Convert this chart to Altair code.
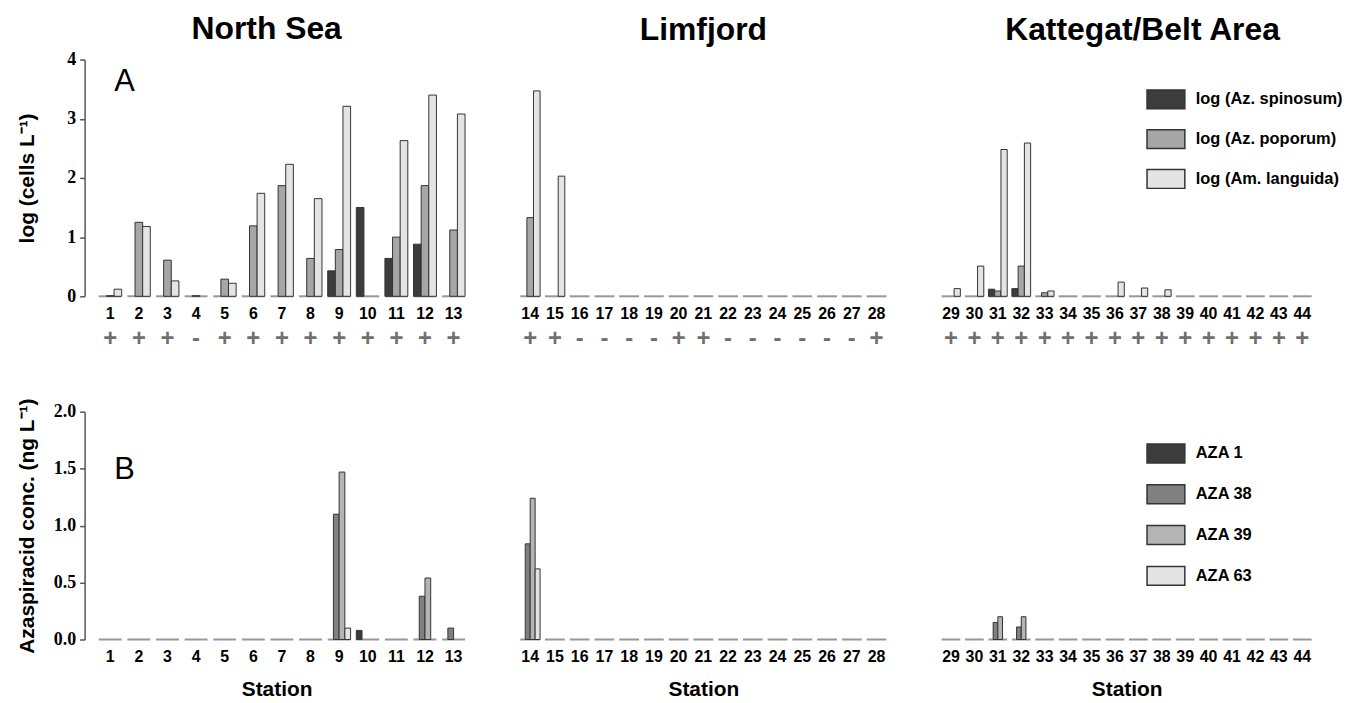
import altair as alt
import pandas as pd

# ---------------- data ----------------
stations_ns = [str(i) for i in range(1, 14)]
stations_lf = [str(i) for i in range(14, 29)]
stations_kb = [str(i) for i in range(29, 45)]

species = ["log (Az. spinosum)", "log (Az. poporum)", "log (Am. languida)"]
species_colors = ["#3c3c3c", "#a6a6a6", "#e4e4e4"]

spin_ns = [0, 0, 0, 0, 0, 0, 0, 0, 0.43, 1.50, 0.64, 0.88, 0]
pop_ns = [0.01, 1.25, 0.61, 0.01, 0.29, 1.19, 1.87, 0.64, 0.79, 0, 1.00, 1.87, 1.12]
lang_ns = [0.12, 1.18, 0.26, 0, 0.22, 1.74, 2.23, 1.65, 3.21, 0, 2.63, 3.40, 3.08]

spin_lf = [0] * 15
pop_lf = [1.33, 0, 0, 0, 0, 0, 0, 0, 0, 0, 0, 0, 0, 0, 0]
lang_lf = [3.47, 2.03, 0, 0, 0, 0, 0, 0, 0, 0, 0, 0, 0, 0, 0]

spin_kb = [0, 0, 0.12, 0.13, 0, 0, 0, 0, 0, 0, 0, 0, 0, 0, 0, 0]
pop_kb = [0, 0, 0.09, 0.51, 0.06, 0, 0, 0, 0, 0, 0, 0, 0, 0, 0, 0]
lang_kb = [0.13, 0.51, 2.48, 2.59, 0.09, 0, 0, 0.24, 0.14, 0.11, 0, 0, 0, 0, 0, 0]

signs_ns = ["+", "+", "+", "-", "+", "+", "+", "+", "+", "+", "+", "+", "+"]
signs_lf = ["+", "+", "-", "-", "-", "-", "+", "+", "-", "-", "-", "-", "-", "-", "+"]
signs_kb = ["+"] * 16

toxins = ["AZA 1", "AZA 38", "AZA 39", "AZA 63"]
toxin_colors = ["#3c3c3c", "#808080", "#b4b4b4", "#e4e4e4"]

aza1_ns = [0, 0, 0, 0, 0, 0, 0, 0, 0, 0.08, 0, 0, 0]
aza38_ns = [0, 0, 0, 0, 0, 0, 0, 0, 1.10, 0, 0, 0.38, 0.10]
aza39_ns = [0, 0, 0, 0, 0, 0, 0, 0, 1.47, 0, 0, 0.54, 0]
aza63_ns = [0, 0, 0, 0, 0, 0, 0, 0, 0.10, 0, 0, 0, 0]

aza1_lf = [0] * 15
aza38_lf = [0.84] + [0] * 14
aza39_lf = [1.24] + [0] * 14
aza63_lf = [0.62] + [0] * 14

aza1_kb = [0] * 16
aza38_kb = [0, 0, 0.15, 0.11] + [0] * 12
aza39_kb = [0, 0, 0.20, 0.20] + [0] * 12
aza63_kb = [0] * 16

regions = ["North Sea", "Limfjord", "Kattegat/Belt Area"]


SANS = "Liberation Sans"
SERIF = "Liberation Serif"


def y_axis(title, values, fmt):
    return alt.Axis(
        title=title, values=values, format=fmt, grid=False,
        titleFont=SANS, titleFontSize=21, titleFontWeight="bold", titleColor="black",
        titlePadding=6,
        labelFont=SERIF, labelFontSize=18, labelFontWeight="bold", labelColor="black",
        labelPadding=4, tickSize=5, tickColor="#555", tickWidth=1.5,
        domainColor="#555", domainWidth=1.5, minExtent=41, maxExtent=41,
    )


def x_axis(title):
    kw = dict(
        labelAngle=0, domain=False, ticks=False, labelOverlap=False,
        labelFont=SANS, labelFontSize=16, labelFontWeight="bold", labelColor="black",
        labelPadding=9,
    )
    if title:
        kw.update(title=title, titleFont=SANS, titleFontSize=21, titleFontWeight="bold",
                  titleColor="black", titlePadding=14)
    else:
        kw.update(title=None)
    return alt.Axis(**kw)


def panel(stations, names, colors, series_lists, signs, ymax, height, width,
          pad_outer, align, show_y, ytitle, yvalues, yfmt, xtitle, legend, letter,
          letter_y, title=None, title_offset=10, title_dx=0):
    xscale = alt.Scale(type="band", domain=stations, paddingInner=0.2,
                       paddingOuter=pad_outer, align=align)
    yscale = alt.Scale(domain=[0, ymax], nice=False, zero=True)
    cscale = alt.Scale(domain=names, range=colors)
    yax = y_axis(ytitle, yvalues, yfmt) if show_y else None
    xax = x_axis(xtitle)
    n = len(stations)
    m = len(names)
    step = width / (n - 0.2 + 2 * pad_outer)
    band = 0.8 * step
    bar_w = band / m

    base_df = pd.DataFrame({"station": stations})
    if signs is not None:
        base_df["sign"] = signs

    X = alt.X("station:N", scale=xscale, axis=xax, sort=stations)
    Y0 = alt.Y("zero:Q", scale=yscale, axis=yax)

    layers = [
        alt.Chart(base_df).transform_calculate(zero="0").mark_tick(
            orient="horizontal", size=band, thickness=2, color="#6b6b6b"
        ).encode(x=X, y=Y0)
    ]

    for k, (name, vals) in enumerate(zip(names, series_lists)):
        sdf = pd.DataFrame({"station": stations, "series": name, "value": vals})
        layers.append(
            alt.Chart(sdf).transform_filter("datum.value > 0").mark_bar(
                stroke="#333333", strokeWidth=1, width=bar_w,
                xOffset=(k - (m - 1) / 2) * bar_w,
            ).encode(
                x=X,
                y=alt.Y("value:Q", scale=yscale, axis=yax),
                color=alt.Color("series:N", scale=cscale, legend=legend),
            )
        )

    if signs is not None:
        layers.append(
            alt.Chart(base_df).transform_calculate(zero="0").mark_text(
                dy=43, fontSize=24, fontWeight="bold", color="#707070", font=SANS
            ).encode(x=X, y=Y0, text="sign:N")
        )
    if letter is not None:
        ldf = pd.DataFrame({"station": [stations[0]], "ypos": [letter_y], "letter": [letter]})
        layers.append(
            alt.Chart(ldf).mark_text(
                align="left", dx=4, fontSize=31, font=SANS, color="black"
            ).encode(x=X, y=alt.Y("ypos:Q", scale=yscale, axis=yax), text="letter:N")
        )

    props = dict(width=width, height=height)
    if title is not None:
        props["title"] = alt.TitleParams(
            title, font=SANS, fontSize=32, fontWeight="bold", color="black",
            anchor="middle", offset=title_offset, dx=title_dx,
        )
    return alt.layer(*layers).properties(**props)


def legend_for(legend_y, row_pad):
    return alt.Legend(
        title=None, orient="none", legendX=209, legendY=legend_y,
        symbolType="M-1,-0.5H1V0.5H-1Z", symbolSize=1444,
        symbolStrokeColor="#333333", symbolStrokeWidth=1.5, symbolOpacity=1,
        labelFont=SANS, labelFontSize=16.5, labelFontWeight="bold", labelColor="black",
        labelOffset=10, rowPadding=row_pad, labelLimit=300,
    )


W_NS, W_LF, W_KB = 386, 378, 379
H_A, H_B = 238, 229

cfgA = dict(names=species, colors=species_colors, ymax=4, height=H_A,
            ytitle="log (cells L\u207b\u00b9)", yvalues=[0, 1, 2, 3, 4], yfmt="d", xtitle=None)
cfgB = dict(names=toxins, colors=toxin_colors, ymax=2, height=H_B,
            ytitle="Azaspiracid conc. (ng L\u207b\u00b9)", yvalues=[0, 0.5, 1, 1.5, 2], yfmt=".1f",
            xtitle="Station")

a_ns = panel(stations_ns, series_lists=[spin_ns, pop_ns, lang_ns], signs=signs_ns, width=W_NS,
             pad_outer=0.31, align=0.8, show_y=True, legend=None, letter="A", letter_y=3.62,
             title=regions[0], title_offset=5, title_dx=-10, **cfgA)
a_lf = panel(stations_lf, series_lists=[spin_lf, pop_lf, lang_lf], signs=signs_lf, width=W_LF,
             pad_outer=0.2, align=0.5, show_y=False, legend=None, letter=None, letter_y=None,
             title=regions[1], title_offset=13, **cfgA)
a_kb = panel(stations_kb, series_lists=[spin_kb, pop_kb, lang_kb], signs=signs_kb, width=W_KB,
             pad_outer=0.15, align=0.5, show_y=False, legend=legend_for(20, 7), letter=None, letter_y=None,
             title=regions[2], title_offset=13, title_dx=16, **cfgA)

b_ns = panel(stations_ns, series_lists=[aza1_ns, aza38_ns, aza39_ns, aza63_ns], signs=None, width=W_NS,
             pad_outer=0.31, align=0.8, show_y=True, legend=None, letter="B", letter_y=1.49, **cfgB)
b_lf = panel(stations_lf, series_lists=[aza1_lf, aza38_lf, aza39_lf, aza63_lf], signs=None, width=W_LF,
             pad_outer=0.2, align=0.5, show_y=False, legend=None, letter=None, letter_y=None, **cfgB)
b_kb = panel(stations_kb, series_lists=[aza1_kb, aza38_kb, aza39_kb, aza63_kb], signs=None, width=W_KB,
             pad_outer=0.15, align=0.5, show_y=False, legend=legend_for(22, 8), letter=None, letter_y=None, **cfgB)

row_a = alt.hconcat(a_ns, a_lf, a_kb, spacing=47).resolve_scale(color="independent", x="independent", y="independent")
row_b = alt.hconcat(b_ns, b_lf, b_kb, spacing=47).resolve_scale(color="independent", x="independent", y="independent")

chart = alt.vconcat(row_a, row_b, spacing=47).resolve_scale(
    color="independent", x="independent", y="independent"
).properties(
    padding={"left": 8, "top": 3, "right": 0, "bottom": 0},
    background="white",
).configure_view(strokeWidth=0, stroke="transparent")

chart.save("out.html", embed_options={"renderer": "svg", "actions": False})
